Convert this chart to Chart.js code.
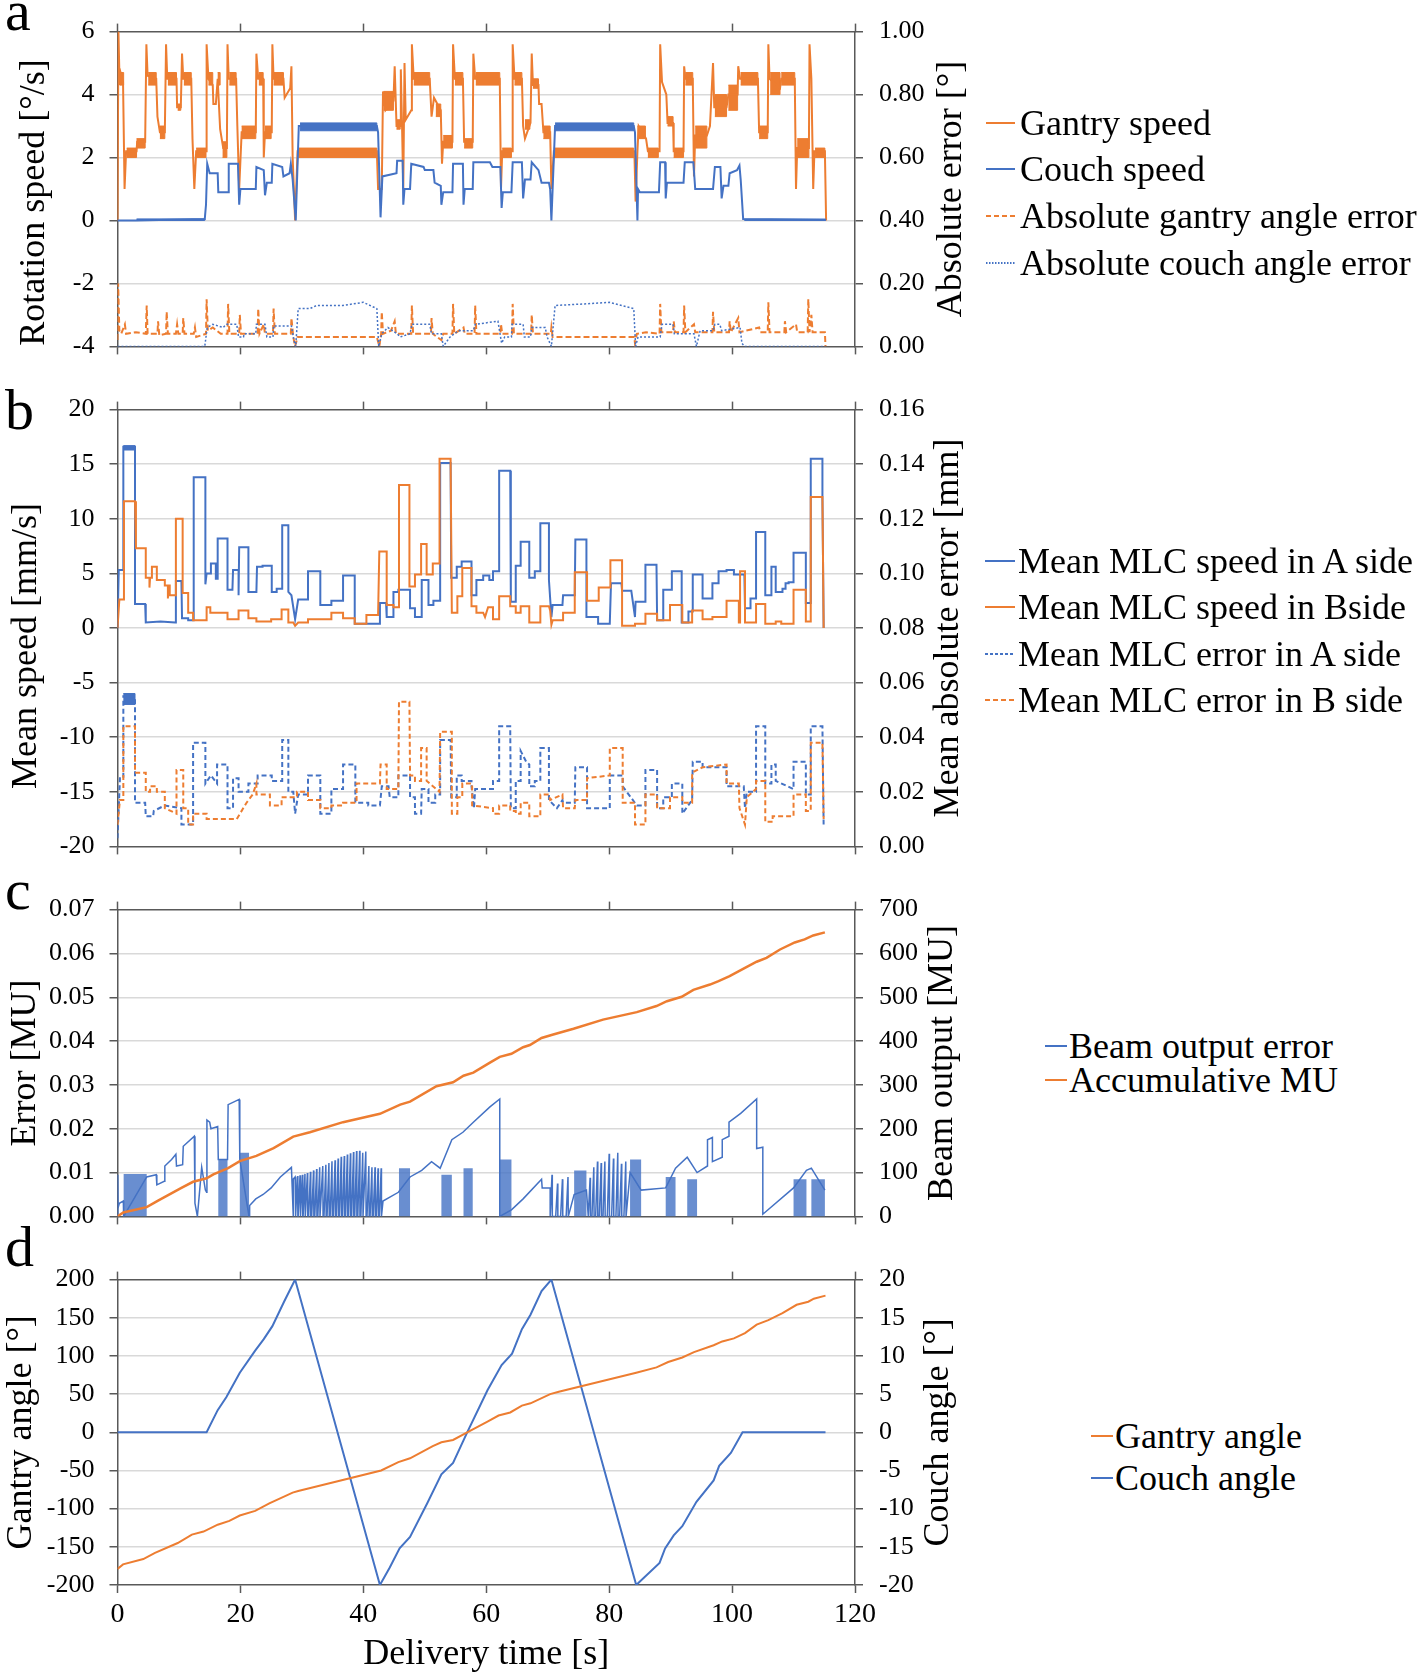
<!DOCTYPE html>
<html>
<head>
<meta charset="utf-8">
<script src="https://cdn.jsdelivr.net/npm/chart.js@4.4.0/dist/chart.umd.min.js"></script>
<style>
  body { margin: 0; background: #fff; width: 1418px; height: 1676px; position: relative; overflow: hidden;
         font-family: "Liberation Serif", "Times New Roman", serif; color: #000; }
  canvas { position: absolute; left: 0; }
  .letter { position: absolute; left: 5px; font-size: 58px; line-height: 1; z-index: 2; }
  .li { position: absolute; height: 40px; z-index: 2; }
  .li svg { position: absolute; left: 0; top: 18px; }
  .li span { position: absolute; top: 0; line-height: 40px; font-size: 36px; white-space: nowrap; }
</style>
</head>
<body>
<canvas id="chart-a" width="1000" height="378" style="top:0px"></canvas>
<canvas id="chart-b" width="1000" height="500" style="top:378px"></canvas>
<canvas id="chart-c" width="1000" height="370" style="top:878px"></canvas>
<canvas id="chart-d" width="1000" height="428" style="top:1248px"></canvas>

<div class="letter" style="top:-18px">a</div>
<div class="letter" style="top:381px">b</div>
<div class="letter" style="top:861px">c</div>
<div class="letter" style="top:1218px">d</div>

<div id="legends"></div>

<script>
// ---- panel a: rotation speed [t (s), deg/s] and absolute angle error [t, deg] ----
const gantrySpeed = [[0,0],[0.15,6.0],[0.35,4.3],[0.5,4.7],[0.9,4.4],[1.15,1.0],[1.4,2.2],[3.1,2.2],[3.2,2.5],[4.5,2.5],[4.7,5.6],[4.9,4.6],[6.3,4.5],[6.5,3.3],[6.9,2.8],[7.7,2.8],[7.9,5.6],[8.1,4.5],[9.6,4.5],[9.7,3.6],[10.3,3.6],[10.5,5.3],[10.7,4.5],[12.0,4.5],[12.2,2.6],[12.5,1.0],[12.8,2.2],[14.4,2.2],[14.5,5.6],[14.8,4.5],[15.5,4.3],[15.6,3.7],[16.0,3.7],[16.3,4.5],[16.7,2.9],[17.2,2.3],[17.8,2.3],[17.9,5.6],[18.1,4.5],[19.3,4.5],[19.5,3.0],[19.8,1.0],[20.2,2.8],[22.5,2.8],[22.6,5.3],[22.9,4.5],[23.7,4.5],[23.8,2.0],[24.0,2.8],[25.1,2.8],[25.2,5.6],[25.4,4.5],[27.0,4.5],[27.2,3.9],[28.1,4.2],[28.3,4.9],[28.5,2.0],[28.9,0],[29.3,2.2],[42.2,2.2],[42.4,1.0],[43.0,1.0],[43.2,4.1],[43.6,3.5],[44.9,3.8],[45.1,4.9],[45.4,3.0],[46.0,3.0],[46.1,4.8],[46.3,3.0],[46.5,1.0],[46.7,5.0],[46.9,3.2],[47.8,3.5],[47.9,5.6],[48.2,4.5],[50.8,4.5],[51.1,3.3],[51.5,3.9],[52.6,3.5],[52.8,1.8],[53.0,2.5],[54.5,2.5],[54.6,5.6],[54.9,4.5],[56.2,4.5],[56.4,2.5],[57.8,2.5],[57.9,5.3],[58.2,4.5],[62.2,4.5],[62.4,1.0],[62.6,2.2],[64.2,2.2],[64.3,5.6],[64.6,4.5],[65.8,4.5],[66.0,3.0],[66.3,2.6],[67.2,3.1],[67.4,5.3],[67.6,4.3],[68.5,4.3],[68.6,3.7],[69.0,3.7],[69.3,2.8],[70.4,2.8],[70.6,1.0],[71.0,2.2],[84.1,2.2],[84.3,0.6],[84.6,2.2],[84.8,3.0],[86.0,2.6],[86.3,2.2],[88.2,2.2],[88.3,5.6],[88.6,4.4],[89.3,4.0],[89.5,3.1],[90.4,3.1],[90.5,2.2],[92.1,2.2],[92.2,4.9],[92.4,4.5],[93.6,4.5],[93.8,1.4],[94.0,2.7],[95.9,2.7],[96.4,3.0],[96.9,5.0],[97.1,3.6],[99.1,3.6],[99.4,4.0],[100.9,4.0],[101.0,4.9],[101.3,4.5],[104.2,4.5],[104.4,2.8],[105.8,2.8],[105.9,5.6],[106.1,4.5],[107.8,4.2],[108.0,4.5],[110.2,4.5],[110.4,1.0],[110.6,2.3],[112.5,2.3],[112.6,5.6],[112.9,4.5],[113.2,1.0],[113.4,2.2],[115.1,2.2],[115.3,0]];
// dense jitter read as [t0, t1, low, high]
const gantrySpeedBands = [[0.4,1.0,4.3,4.7],[1.5,3.1,2.0,2.3],[3.1,4.5,2.3,2.6],[5.0,6.3,4.3,4.7],[6.9,7.7,2.6,3.0],[8.2,9.6,4.3,4.7],[9.8,10.3,3.5,3.7],[10.8,12.0,4.3,4.7],[12.8,14.4,2.0,2.3],[14.8,15.5,4.3,4.7],[16.3,16.7,4.3,4.7],[17.1,17.8,2.0,2.5],[18.2,19.3,4.3,4.7],[20.2,22.5,2.6,3.0],[23.0,23.7,4.3,4.7],[24.0,25.0,2.6,3.0],[25.4,27.0,4.3,4.7],[29.4,42.2,2.0,2.3],[43.3,44.9,3.5,4.1],[45.4,46.0,2.9,3.2],[48.2,50.8,4.3,4.7],[51.8,52.6,3.3,3.7],[53.0,54.5,2.3,2.7],[54.9,56.2,4.3,4.7],[56.4,57.8,2.3,2.6],[58.3,62.2,4.3,4.7],[62.6,64.1,2.0,2.3],[64.6,65.8,4.3,4.7],[66.3,67.1,2.9,3.2],[67.6,68.5,4.2,4.5],[69.3,70.4,2.6,3.0],[71.0,84.0,2.0,2.3],[84.6,85.9,2.6,3.0],[86.3,88.0,2.0,2.3],[89.5,90.4,3.0,3.3],[90.5,92.1,2.0,2.3],[92.4,93.6,4.3,4.7],[94.0,95.9,2.3,3.0],[97.2,99.1,3.3,4.0],[99.4,100.9,3.5,4.3],[101.4,104.2,4.3,4.7],[104.4,105.8,2.6,3.0],[106.2,107.8,4.0,4.7],[108.0,110.2,4.3,4.7],[110.6,112.5,2.0,2.6],[113.5,115.1,2.0,2.3]];
const couchSpeed = [[0,0],[3.0,0],[14.2,0.05],[14.4,0.5],[14.6,1.8],[15.0,1.5],[16.3,1.5],[16.4,0.9],[18.0,0.9],[18.1,1.8],[19.6,1.8],[19.8,0.5],[20.0,1.0],[22.5,1.0],[22.6,1.7],[23.8,1.6],[24.0,0.8],[24.3,1.2],[25.1,1.2],[25.2,1.8],[26.8,1.7],[27.0,1.4],[28.0,1.5],[28.2,1.8],[28.5,1.3],[29.0,0],[29.5,3.0],[42.2,3.0],[42.4,2.8],[42.8,0.1],[43.1,1.4],[45.4,1.5],[45.5,1.9],[46.4,1.9],[46.5,0.5],[46.7,1.0],[47.6,1.0],[47.8,1.8],[49.8,1.7],[50.0,1.6],[51.4,1.6],[51.6,1.2],[52.6,1.1],[52.7,0.5],[53.0,0.9],[54.5,0.9],[54.6,1.8],[56.2,1.8],[56.3,0.5],[56.5,1.0],[57.8,1.0],[57.9,1.85],[60.6,1.85],[61.0,1.7],[62.3,1.7],[62.5,0.4],[62.7,0.9],[64.1,0.9],[64.3,1.85],[65.8,1.85],[66.0,0.7],[66.3,1.3],[67.2,1.3],[67.4,1.85],[68.5,1.6],[69.0,1.2],[70.2,1.2],[70.4,1.0],[70.6,0],[71.2,3.0],[84.0,3.0],[84.2,2.8],[84.6,0],[84.7,1.0],[85.0,0.9],[88.1,0.9],[88.3,1.85],[89.1,1.85],[89.2,0.7],[89.4,1.2],[92.1,1.2],[92.3,1.85],[93.7,1.85],[94.0,1.0],[96.9,1.0],[97.2,1.7],[98.1,1.7],[98.3,0.7],[98.6,1.1],[99.4,1.1],[99.6,1.5],[100.8,1.6],[101.2,1.75],[101.4,1.3],[101.8,0.05],[115.3,0.02]];
const couchSpeedBands = [[3.1,14.2,0,0.05],[29.7,42.2,2.85,3.1],[71.2,84.0,2.85,3.1],[102.0,115.2,0,0.04]];
const gantryAngleError = [[0,0.02],[0.1,0.2],[0.3,0.05],[0.6,0.04],[1.2,0.07],[1.4,0.04],[3.0,0.045],[4.6,0.04],[4.75,0.13],[4.9,0.04],[6.5,0.04],[6.6,0.08],[6.8,0.035],[7.9,0.04],[8.0,0.11],[8.2,0.04],[9.5,0.04],[9.7,0.07],[9.9,0.04],[10.6,0.04],[10.7,0.09],[10.9,0.04],[12.4,0.04],[12.6,0.06],[12.8,0.03],[14.4,0.04],[14.5,0.15],[14.7,0.05],[15.5,0.06],[16.8,0.04],[17.9,0.04],[18.0,0.135],[18.2,0.04],[19.8,0.04],[19.9,0.1],[20.1,0.04],[22.8,0.04],[22.9,0.12],[23.1,0.04],[23.8,0.07],[24.0,0.04],[25.3,0.04],[25.4,0.12],[25.6,0.04],[28.2,0.04],[28.3,0.09],[28.6,0.03],[28.9,0],[29.3,0.03],[35,0.03],[42.2,0.03],[42.6,0.0],[42.9,0.04],[43.0,0.11],[43.2,0.04],[44.5,0.05],[45.1,0.08],[45.3,0.04],[47.8,0.04],[47.9,0.13],[48.1,0.04],[51.0,0.04],[51.1,0.09],[51.3,0.04],[52.7,0.02],[53.0,0.04],[54.5,0.04],[54.6,0.135],[54.8,0.04],[56.3,0.06],[56.5,0.04],[58.1,0.04],[58.2,0.13],[58.4,0.04],[62.3,0.04],[62.4,0.07],[62.6,0.04],[64.2,0.04],[64.3,0.135],[64.5,0.04],[67.3,0.04],[67.4,0.1],[67.6,0.04],[70.5,0.04],[70.6,0.06],[70.8,0.03],[84.1,0.03],[84.2,0.01],[84.5,0.04],[86.0,0.045],[88.2,0.04],[88.3,0.135],[88.5,0.045],[90.4,0.045],[90.5,0.08],[90.7,0.045],[92.1,0.045],[92.2,0.13],[92.4,0.045],[93.8,0.07],[94.0,0.045],[96.8,0.045],[96.9,0.11],[97.1,0.045],[99.5,0.045],[99.6,0.08],[99.8,0.045],[101.0,0.09],[101.2,0.045],[104.4,0.06],[104.6,0.045],[105.8,0.045],[105.9,0.14],[106.1,0.045],[108.5,0.045],[108.6,0.08],[108.8,0.045],[110.4,0.07],[110.6,0.045],[112.3,0.045],[112.4,0.15],[112.6,0.045],[112.9,0.1],[113.1,0.045],[115.1,0.045],[115.2,0]];
const couchAngleError = [[0,0],[14.2,0],[14.6,0.06],[15.5,0.07],[17.2,0.06],[17.7,0.07],[19.4,0.07],[19.7,0.03],[20.5,0.03],[20.6,0.04],[22.5,0.04],[22.6,0.07],[24.0,0.07],[24.3,0.03],[25.3,0.03],[25.4,0.065],[28.3,0.065],[28.7,0.02],[29.0,0.0],[29.4,0.12],[31.3,0.12],[32.4,0.13],[36.7,0.13],[40.0,0.14],[42.2,0.12],[42.5,0.0],[43.0,0.04],[44.0,0.06],[45.5,0.04],[46.0,0.03],[47.6,0.04],[47.9,0.07],[50.8,0.07],[51.1,0.04],[52.7,0.04],[53.0,0.0],[54.1,0.03],[55.5,0.05],[57.9,0.05],[58.2,0.07],[61.9,0.08],[62.5,0.01],[63.0,0.03],[64.1,0.03],[64.2,0.07],[66.0,0.07],[66.2,0.03],[67.2,0.03],[67.4,0.06],[69.6,0.06],[69.9,0.03],[70.6,0.0],[71.2,0.13],[76,0.135],[80,0.14],[84.0,0.12],[84.3,0.0],[84.7,0.03],[88.3,0.03],[88.6,0.07],[90.4,0.07],[90.6,0.04],[93.8,0.04],[94.2,0.0],[94.8,0.05],[96.9,0.05],[97.2,0.07],[98.0,0.07],[98.3,0.05],[101.3,0.06],[101.6,0.01],[102.0,0.0],[115.2,0.0]];

// ---- panel b: mean MLC speed [t, mm/s] and mean absolute error [t, mm] ----
const mlcSpeedA = [[0,0],[0.2,5.3],[0.95,5.3],[0.95,16.6],[2.85,16.6],[2.85,2.2],[4.5,2.2],[4.6,0.5],[7.0,0.6],[9.4,0.5],[9.5,4.3],[10.4,4.3],[10.5,0.9],[11.5,0.9],[11.5,0.7],[12.3,0.7],[12.4,13.8],[14.3,13.8],[14.3,4.0],[14.5,5.0],[15.2,5.0],[15.2,5.9],[16.0,5.9],[16.0,4.5],[16.3,4.5],[16.3,8.2],[17.9,8.2],[17.9,3.5],[18.7,3.5],[18.8,5.3],[19.7,5.3],[19.7,3.0],[19.8,7.4],[21.3,7.4],[21.3,3.3],[22.6,3.3],[22.7,5.6],[23.6,5.6],[23.6,5.7],[25.1,5.7],[25.1,3.3],[25.9,3.3],[25.9,3.6],[26.8,3.6],[26.8,9.4],[27.8,9.4],[27.8,3.3],[28.3,3.0],[28.9,0.8],[29.4,2.6],[31.0,2.6],[31.0,5.2],[33.0,5.2],[33.0,2.1],[34.8,2.1],[34.8,2.5],[36.7,2.5],[36.7,4.8],[38.6,4.8],[38.6,0.4],[42.6,0.4],[42.7,2.3],[43.7,2.3],[43.8,1.0],[44.9,1.0],[44.9,3.3],[45.7,3.3],[45.7,3.5],[47.6,3.5],[47.6,1.8],[48.4,1.8],[48.4,1.0],[49.4,1.0],[49.5,4.4],[50.6,4.4],[50.6,2.1],[51.4,2.1],[51.4,2.5],[52.5,2.5],[52.5,15.1],[54.2,15.1],[54.3,4.6],[55.2,4.6],[55.2,5.6],[56.0,5.6],[56.0,6.1],[57.6,6.1],[57.6,3.0],[58.4,3.0],[58.4,4.4],[59.5,4.4],[59.5,4.8],[60.5,4.8],[60.5,4.4],[61.1,4.4],[61.1,5.2],[62.1,5.2],[62.1,14.4],[63.9,14.4],[64.0,2.4],[64.8,2.4],[64.8,5.7],[65.6,5.7],[65.6,7.9],[67.0,7.9],[67.0,4.6],[67.9,4.6],[67.9,5.2],[68.8,5.2],[68.8,9.6],[70.2,9.6],[70.2,4.4],[70.6,1.0],[70.8,2.1],[72.4,2.1],[72.5,3.0],[74.4,3.0],[74.5,8.1],[76.3,8.1],[76.3,1.0],[78.2,1.0],[78.2,0.4],[80.1,0.4],[80.3,4.1],[82.0,4.1],[82.1,3.4],[83.6,3.4],[84.2,1.0],[84.3,2.4],[85.9,2.4],[85.9,5.8],[87.7,5.8],[87.8,0.7],[88.8,0.7],[88.8,3.5],[90.2,3.5],[90.2,5.2],[91.8,5.2],[91.8,0.5],[92.9,0.5],[92.9,1.5],[93.6,1.5],[93.6,4.9],[95.2,4.9],[95.2,2.7],[96.8,2.7],[96.8,4.1],[97.8,4.1],[97.8,5.2],[99.1,5.2],[99.1,5.3],[100.3,5.3],[100.3,4.9],[102.0,4.9],[102.1,1.8],[103.0,1.8],[103.0,2.7],[103.9,2.7],[103.9,8.8],[105.4,8.8],[105.4,3.0],[106.4,3.0],[106.4,5.6],[107.1,5.6],[107.1,3.3],[108.2,3.3],[108.2,3.6],[108.7,3.6],[108.7,4.1],[109.2,4.1],[109.2,4.2],[110.0,4.2],[110.0,6.9],[112.0,6.9],[112.0,2.3],[112.8,2.3],[112.8,15.5],[114.7,15.5],[114.7,12.0],[114.9,0]];
const mlcSpeedABands = [[0.95,2.85,16.3,16.7]];
const mlcSpeedB = [[0,0],[0.3,2.6],[1.0,2.6],[1.05,11.6],[2.85,11.6],[3.0,7.3],[4.6,7.3],[4.6,4.6],[5.2,4.6],[5.2,3.7],[5.3,4.6],[5.6,4.6],[5.6,5.6],[6.4,5.6],[6.4,4.4],[7.7,4.4],[7.7,3.9],[8.2,3.9],[8.2,2.7],[8.3,3.9],[8.5,3.9],[8.5,3.0],[9.5,3.0],[9.5,10.0],[10.6,10.0],[10.6,3.2],[11.5,3.2],[11.5,1.4],[12.3,1.4],[12.3,0.7],[14.5,0.7],[14.5,1.9],[15.1,1.9],[15.1,1.4],[17.9,1.4],[17.9,0.8],[19.7,0.8],[19.7,1.6],[21.3,1.6],[21.3,0.9],[22.6,0.9],[22.6,0.6],[25.0,0.6],[25.0,0.8],[26.7,0.8],[26.7,1.7],[27.8,1.7],[27.8,0.5],[28.6,0.5],[28.9,0.2],[29.4,0.5],[31.0,0.5],[31.0,0.8],[34.8,0.8],[34.8,1.4],[36.7,1.4],[36.7,0.9],[38.6,0.9],[38.6,0.4],[40.5,0.4],[40.5,1.2],[42.4,1.2],[42.6,7.0],[43.8,7.0],[43.8,2.1],[44.9,2.1],[44.9,1.9],[45.8,1.9],[45.8,13.1],[47.5,13.1],[47.5,3.8],[48.4,3.8],[48.4,4.9],[49.4,4.9],[49.4,7.7],[50.3,7.7],[50.3,4.9],[51.3,4.9],[51.3,5.9],[52.4,5.9],[52.4,15.5],[54.2,15.5],[54.4,1.4],[55.3,1.4],[55.3,2.9],[56.1,2.9],[56.1,5.5],[57.6,5.5],[57.6,2.0],[58.4,2.0],[58.4,1.4],[59.5,1.4],[59.8,1.0],[60.3,1.9],[61.1,1.9],[61.1,0.8],[62.1,0.8],[62.1,2.9],[63.9,2.9],[63.9,2.0],[64.8,2.0],[64.8,1.4],[65.6,1.4],[65.6,2.0],[67.0,2.0],[67.0,0.5],[68.8,0.5],[68.8,2.0],[70.2,2.0],[70.4,1.6],[70.6,0.3],[70.8,0.7],[72.5,0.7],[72.5,1.4],[74.4,1.4],[74.4,5.1],[76.4,5.1],[76.4,2.5],[78.3,2.5],[78.3,3.7],[80.2,3.7],[80.2,6.2],[82.1,6.2],[82.1,0.2],[84.2,0.2],[84.2,0.4],[85.9,0.4],[85.9,1.3],[87.8,1.3],[87.8,0.7],[89.9,0.7],[89.9,2.1],[91.9,2.1],[91.9,0.5],[93.5,0.5],[93.5,1.6],[95.2,1.6],[95.2,0.8],[96.8,0.8],[96.8,1.0],[99.1,1.0],[99.1,2.5],[101.1,2.5],[101.1,0.5],[101.3,0.5],[101.3,5.2],[102.1,5.2],[102.1,0.5],[103.9,0.5],[103.9,2.2],[105.4,2.2],[105.4,0.4],[107.1,0.4],[107.1,0.6],[108.0,0.6],[108.0,0.4],[110.0,0.4],[110.0,3.5],[112.0,3.5],[112.0,0.6],[112.8,0.6],[112.8,12.0],[114.7,12.0],[114.9,0]];
const mlcErrorA = [[0,0.003],[0.4,0.025],[0.95,0.025],[0.95,0.055],[2.85,0.055],[2.85,0.016],[4.5,0.016],[4.6,0.011],[5.8,0.011],[5.9,0.013],[7.7,0.015],[10.4,0.014],[10.4,0.008],[12.3,0.008],[12.3,0.038],[14.3,0.038],[14.3,0.023],[15.2,0.026],[16.2,0.023],[16.2,0.030],[17.9,0.030],[17.9,0.014],[18.8,0.014],[18.8,0.025],[19.7,0.025],[19.7,0.020],[21.3,0.020],[21.3,0.023],[22.8,0.023],[22.8,0.026],[25.1,0.026],[25.1,0.024],[26.8,0.024],[26.8,0.039],[27.8,0.039],[27.8,0.020],[28.6,0.020],[28.9,0.012],[29.4,0.019],[31.0,0.019],[31.0,0.026],[33.0,0.026],[33.0,0.012],[34.8,0.012],[34.8,0.021],[36.7,0.021],[36.7,0.030],[38.7,0.030],[38.7,0.016],[40.8,0.016],[40.8,0.015],[42.7,0.015],[43.0,0.022],[44.1,0.022],[44.3,0.018],[45.7,0.018],[45.7,0.026],[47.6,0.026],[47.6,0.018],[48.4,0.018],[48.4,0.012],[49.4,0.012],[49.5,0.021],[50.6,0.021],[50.6,0.016],[51.7,0.016],[51.7,0.019],[52.5,0.019],[52.5,0.039],[54.2,0.039],[54.3,0.018],[55.2,0.018],[55.2,0.026],[56.0,0.026],[56.0,0.024],[57.6,0.024],[57.6,0.022],[58.0,0.014],[58.2,0.021],[61.1,0.021],[61.1,0.024],[62.1,0.024],[62.1,0.044],[63.9,0.044],[64.0,0.014],[64.8,0.014],[64.8,0.024],[65.6,0.024],[65.6,0.035],[66.5,0.031],[67.0,0.030],[67.0,0.022],[67.9,0.022],[67.9,0.024],[68.8,0.024],[68.8,0.036],[70.2,0.036],[70.2,0.017],[71.5,0.014],[72.4,0.017],[72.5,0.016],[74.4,0.016],[74.5,0.029],[76.4,0.029],[76.4,0.014],[80.1,0.014],[80.1,0.026],[82.2,0.026],[82.2,0.022],[84.5,0.015],[85.9,0.015],[85.9,0.028],[87.8,0.028],[87.8,0.014],[88.8,0.014],[88.8,0.018],[90.2,0.018],[90.2,0.023],[91.9,0.023],[91.9,0.012],[93.5,0.017],[93.6,0.031],[95.2,0.031],[95.2,0.029],[99.1,0.029],[99.1,0.022],[101.9,0.022],[102.1,0.014],[102.4,0.020],[103.9,0.020],[103.9,0.044],[105.4,0.044],[105.4,0.023],[106.4,0.023],[106.4,0.030],[107.1,0.030],[107.1,0.024],[110.0,0.021],[110.0,0.031],[112.0,0.031],[112.0,0.019],[112.8,0.019],[112.8,0.044],[114.7,0.044],[114.9,0.007]];
const mlcErrorABands = [[0.95,2.85,0.052,0.056]];
const mlcErrorB = [[0,0.008],[0.4,0.017],[0.95,0.017],[0.95,0.044],[2.85,0.044],[2.85,0.027],[4.6,0.027],[4.6,0.020],[5.3,0.020],[5.3,0.022],[6.4,0.022],[6.4,0.020],[7.7,0.020],[7.7,0.014],[9.6,0.012],[9.6,0.028],[10.7,0.028],[10.7,0.014],[11.5,0.014],[11.5,0.008],[12.3,0.008],[12.3,0.012],[14.5,0.012],[14.5,0.010],[19.4,0.010],[21.0,0.016],[22.0,0.019],[22.6,0.023],[22.6,0.019],[24.8,0.019],[24.8,0.015],[26.7,0.015],[26.7,0.018],[29.2,0.018],[29.2,0.020],[31.0,0.020],[31.0,0.017],[33.0,0.017],[33.0,0.014],[34.8,0.014],[34.8,0.015],[36.7,0.015],[36.7,0.016],[38.9,0.016],[38.9,0.023],[42.7,0.023],[42.8,0.030],[43.8,0.030],[43.8,0.021],[45.7,0.021],[45.8,0.053],[47.5,0.053],[47.6,0.026],[48.4,0.026],[48.4,0.024],[49.4,0.024],[49.4,0.036],[50.3,0.036],[50.3,0.024],[52.4,0.020],[52.5,0.042],[54.4,0.042],[54.4,0.012],[55.3,0.012],[55.3,0.018],[56.1,0.018],[56.1,0.023],[57.7,0.023],[57.7,0.015],[61.1,0.014],[61.1,0.012],[62.1,0.012],[62.1,0.015],[63.9,0.015],[63.9,0.013],[64.8,0.013],[64.8,0.012],[65.6,0.012],[65.6,0.016],[67.0,0.016],[67.0,0.011],[68.8,0.011],[68.8,0.019],[70.2,0.019],[70.4,0.017],[72.4,0.019],[72.5,0.014],[74.4,0.014],[74.5,0.017],[76.4,0.017],[76.4,0.025],[80.1,0.026],[80.1,0.036],[82.2,0.036],[82.2,0.016],[84.2,0.016],[84.2,0.008],[85.9,0.008],[85.9,0.019],[87.8,0.019],[87.8,0.014],[89.9,0.014],[89.9,0.018],[91.9,0.018],[91.9,0.016],[93.5,0.016],[93.5,0.027],[95.2,0.029],[99.1,0.030],[99.1,0.023],[101.1,0.023],[101.2,0.014],[102.1,0.008],[102.4,0.018],[103.9,0.021],[103.9,0.024],[105.4,0.024],[105.4,0.009],[106.6,0.009],[106.6,0.011],[110.0,0.011],[110.0,0.019],[112.0,0.019],[112.0,0.013],[112.8,0.013],[112.8,0.038],[114.7,0.038],[114.9,0.010]];

// ---- panel c: beam output error [t, MU] and accumulated MU [t, MU] ----
const beamError = [[0,0],[0.05,0.0095],[0.1,0.002],[0.3,0.003],[0.95,0.0035],[1.0,0],[4.75,0.009],[6.3,0.0095],[6.4,0.0072],[7.6,0.008],[7.7,0.0115],[8.8,0.013],[9.5,0.0142],[9.6,0.0115],[10.6,0.0118],[10.7,0.016],[12.5,0.0183],[12.6,0.003],[13.0,0],[13.7,0.0112],[14.3,0.006],[14.5,0.0055],[14.55,0.022],[15.0,0.0215],[15.2,0.020],[16.3,0.0205],[16.4,0.013],[17.9,0.013],[18.0,0.0255],[19.8,0.0267],[19.9,0.013],[21.4,0],[21.5,0.0025],[22.5,0.004],[23.7,0.005],[25.0,0.0065],[26.5,0.009],[28.3,0.0112],[28.6,0.0085],[43.2,0.0035],[45.7,0.0055],[47.6,0.009],[49.5,0.0105],[51.1,0.0125],[52.5,0.011],[54.4,0.0175],[56.2,0.0192],[57.9,0.0215],[60.6,0.025],[62.2,0.0268],[62.2,0],[64.1,0.0015],[66.0,0.004],[69.0,0.0085],[69.1,0.0065],[70.4,0.0065],[74.3,0.005],[76.3,0.006],[83.4,0.01],[85.2,0.006],[89.2,0.0065],[90.8,0.011],[92.7,0.0135],[94.3,0.010],[96.0,0.0115],[96.0,0.0175],[96.8,0.018],[96.8,0.0125],[98.4,0.0135],[98.4,0.0175],[99.5,0.0183],[99.5,0.0215],[101.4,0.0235],[104.0,0.0268],[104.0,0.0155],[105.0,0.0158],[105.0,0.0005],[110.0,0.0065],[112.1,0.0105],[112.9,0.011],[115.1,0.006]];
// sawtooth peaks [t, peak MU]
const beamErrorTeeth = [[28.9,0.009],[29.3,0.0092],[29.7,0.0094],[30.1,0.0095],[30.5,0.0097],[30.9,0.0099],[31.4,0.0102],[31.9,0.0105],[32.4,0.0108],[32.9,0.0112],[33.4,0.0115],[33.9,0.0118],[34.4,0.0122],[34.9,0.0126],[35.4,0.0128],[35.9,0.0132],[36.4,0.0136],[36.9,0.0138],[37.4,0.0141],[37.9,0.0144],[38.4,0.0147],[38.9,0.0149],[39.4,0.015],[39.9,0.0145],[40.4,0.0148],[40.9,0.0115],[41.4,0.0112],[41.9,0.0112],[42.4,0.011],[42.9,0.011],[70.7,0.0095],[71.6,0.0075],[72.4,0.0085],[73.3,0.009],[76.9,0.0088],[77.5,0.0112],[78.1,0.0125],[78.7,0.0122],[79.3,0.0125],[80.0,0.0143],[80.7,0.0132],[81.4,0.0145],[82.0,0.012],[82.7,0.0125]];
const beamErrorBands = [[1.0,4.75,0,0.0097],[16.4,17.9,0,0.013],[19.9,21.4,0,0.0145],[45.8,47.6,0,0.011],[52.7,54.4,0,0.0095],[56.3,57.8,0,0.011],[62.2,64.1,0,0.013],[74.3,76.3,0,0.0105],[83.4,85.2,0,0.013],[89.2,90.8,0,0.009],[92.7,94.3,0,0.0085],[110.0,112.1,0,0.0085],[112.9,115.1,0,0.0085]];
const accumulativeMU = [[0,0],[0.95,9],[4.75,21],[6.6,36],[10.4,65],[12.3,79],[14.5,87],[15.6,96],[18.0,110],[19.9,126],[22.6,138],[25.4,156],[28.6,182],[31.3,192],[36.7,215],[42.7,234],[46.0,255],[47.6,262],[51.9,297],[54.6,306],[56.3,321],[57.9,328],[60.6,351],[62.2,364],[64.1,371],[66.0,386],[67.1,391],[69.0,407],[70.9,415],[74.2,428],[79.0,449],[84.5,466],[87.7,480],[89.4,491],[91.8,501],[93.7,517],[96.4,529],[97.8,537],[99.6,548],[102.1,567],[104.0,581],[105.6,590],[107.8,609],[110.2,625],[111.8,632],[113.2,641],[115.1,648]];

// ---- panel d: gantry angle [t, deg] and couch angle [t, deg] ----
const gantryAngle = [[0,-179],[0.9,-173],[4.2,-166],[6.1,-158],[9.8,-145],[12.1,-134],[14.0,-130],[16.3,-121],[18.2,-116],[19.9,-109],[22.4,-103],[24.7,-93],[28.5,-79],[29.4,-77],[42.9,-50],[45.7,-39],[47.6,-34],[51.3,-18],[52.7,-13],[54.6,-10],[56.9,0],[60.2,14],[62.0,22],[63.9,26],[65.8,35],[67.2,38],[70.4,50],[71.8,53],[84.4,78],[87.7,85],[89.6,92],[91.9,98],[93.8,105],[97.0,114],[98.4,119],[100.3,123],[102.1,130],[104.0,141],[105.9,147],[108.2,156],[110.5,167],[112.4,171],[113.3,175],[115.2,179]];
const couchAngle = [[0,0],[14.5,0],[16.3,2.9],[17.7,4.6],[19.9,7.8],[22.4,10.7],[23.8,12.2],[25.2,13.9],[27.1,17.1],[28.9,20],[42.7,-20],[44.3,-17.7],[45.9,-15.2],[47.6,-13.7],[50.4,-9.3],[52.7,-5.5],[54.6,-4.0],[56.9,0],[60.2,5.5],[62.5,8.8],[64.2,10.3],[65.8,13.5],[67.2,15.4],[69.0,18.5],[70.6,20],[84.4,-20],[88.2,-17.1],[89.1,-15.2],[90.5,-13.5],[91.9,-12.3],[94.2,-9.1],[97.0,-6.3],[97.9,-4.4],[99.8,-2.7],[101.7,0],[115.2,0]];

// ---- axis ranges ----
const timeAxis = { min: 0, max: 120, step: 20 };

const FONT = '"Liberation Serif", "Times New Roman", serif';
const ORANGE = '#ED7D31';
const BLUE = '#4472C4';
const BLUE_DENSE = 'rgba(68, 114, 196, 0.8)';
const AXIS = '#595959';
const GRID = '#d9d9d9';
const PLOT_LEFT = 117.5;
const RIGHT_W = 145;

function pts(arr) {
    return arr.map(([x, y]) => ({ x, y }));
}

// each band becomes a closed rectangle, split by gaps
function bandPts(bands) {
    const out = [];
    bands.forEach(([t0, t1, lo, hi], i) => {
        if (i) out.push({ x: t0, y: null });
        out.push({ x: t0, y: lo }, { x: t1, y: lo }, { x: t1, y: hi }, { x: t0, y: hi });
    });
    return out;
}

function teethPts(teeth) {
    const out = [];
    teeth.forEach(([t, peak]) => {
        out.push({ x: t - 0.3, y: 0 }, { x: t, y: peak }, { x: t + 0.05, y: 0 });
    });
    return out;
}

function line(data, color, yAxisID, order, extra) {
    return Object.assign({ data, borderColor: color, backgroundColor: color, borderWidth: 2,
        pointRadius: 0, tension: 0, yAxisID, xAxisID: 'x', order, fill: false }, extra || {});
}

function band(bands, color, yAxisID, order, fillStyle, edge) {
    return { data: bandPts(bands), borderColor: color, backgroundColor: fillStyle || color,
        borderWidth: edge === undefined ? 1 : edge, pointRadius: 0, tension: 0, yAxisID, xAxisID: 'x',
        order, fill: 'shape', spanGaps: false };
}

function xScales(showLabels, topH, bottomH, title) {
    return {
        x: {
            type: 'linear', position: 'bottom', min: timeAxis.min, max: timeAxis.max,
            ticks: { stepSize: timeAxis.step, display: showLabels, padding: 5, color: '#000',
                     font: { family: FONT, size: 28 } },
            grid: { drawOnChartArea: false, tickLength: 8, tickColor: AXIS, tickWidth: 1.5 },
            border: { color: AXIS, width: 1.5 },
            title: title ? { display: true, text: title, color: '#000',
                     font: { family: FONT, size: 36, lineHeight: 1 }, padding: { top: 0, bottom: 3 } } : { display: false },
            afterFit: s => { s.height = bottomH; }
        },
        xTop: {
            type: 'linear', position: 'top', min: timeAxis.min, max: timeAxis.max,
            ticks: { stepSize: timeAxis.step, display: false },
            grid: { drawOnChartArea: false, tickLength: 8, tickColor: AXIS, tickWidth: 1.5 },
            border: { color: AXIS, width: 1.5 },
            afterFit: s => { s.height = topH; }
        }
    };
}

function yScale(side, min, max, step, title, titlePad, fmt) {
    const left = side === 'left';
    return {
        type: 'linear', position: side, min, max,
        ticks: { stepSize: step, padding: left ? 15 : 16, color: '#000',
                 font: { family: FONT, size: 26 }, callback: fmt },
        grid: {
            drawOnChartArea: left,
            color: c => (c.tick && (c.tick.value === min || c.tick.value === max)) ? 'rgba(0,0,0,0)' : GRID,
            lineWidth: 1.5, tickLength: 8, tickColor: AXIS, tickWidth: 1.5
        },
        border: { color: AXIS, width: 1.5 },
        // right-hand titles read bottom-to-top in the original, drawn by the plugin below
        title: left ? { display: true, text: title, color: '#000', font: { family: FONT, size: 36, lineHeight: 1 },
                 padding: { top: titlePad, bottom: 0 } } : { display: false },
        afterFit: s => { s.width = left ? PLOT_LEFT : RIGHT_W; }
    };
}

const rightTitlePlugin = {
    id: 'rightTitle',
    afterDraw(chart, args, opts) {
        if (!opts.text) return;
        const { ctx, chartArea } = chart;
        ctx.save();
        ctx.translate(opts.x, (chartArea.top + chartArea.bottom) / 2);
        ctx.rotate(-Math.PI / 2);
        ctx.font = '36px ' + FONT;
        ctx.fillStyle = '#000';
        ctx.textAlign = 'center';
        ctx.textBaseline = 'middle';
        ctx.fillText(opts.text, 0, 0);
        ctx.restore();
    }
};

function makeChart(id, datasets, scales, rightTitle) {
    const ctx = document.getElementById(id).getContext('2d');
    return new Chart(ctx, {
        type: 'line',
        data: { datasets },
        options: {
            responsive: false,
            animation: false,
            layout: { padding: 0 },
            plugins: { legend: { display: false }, tooltip: { enabled: false }, rightTitle },
            scales
        },
        plugins: [rightTitlePlugin]
    });
}

const int = v => String(v);
const fix2 = v => v.toFixed(2);
const NB = '\u00A0';

// panel a
makeChart('chart-a', [
    line(pts(couchSpeed), BLUE, 'y', 0),
    band(couchSpeedBands, BLUE, 'y', 1),
    line(pts(couchAngleError), BLUE, 'y2', 2, { borderWidth: 1.5, borderDash: [2, 2] }),
    line(pts(gantryAngleError), ORANGE, 'y2', 3, { borderWidth: 2, borderDash: [6, 3] }),
    line(pts(gantrySpeed), ORANGE, 'y', 4),
    band(gantrySpeedBands, ORANGE, 'y', 5)
], Object.assign(xScales(false, 26, 19), {
    y: yScale('left', -4, 6, 2, 'Rotation speed [°/s]' + NB.repeat(3), 17, int),
    y2: yScale('right', 0, 1, 0.2, '', 0, fix2)
}), { text: 'Absolute error [°]', x: 951.5 });

// panel b
makeChart('chart-b', [
    line(pts(mlcSpeedB), ORANGE, 'y', 0),
    line(pts(mlcSpeedA), BLUE, 'y', 1),
    band(mlcSpeedABands, BLUE, 'y', 2),
    line(pts(mlcErrorB), ORANGE, 'y2', 3, { borderDash: [5, 3] }),
    line(pts(mlcErrorA), BLUE, 'y2', 4, { borderDash: [5, 3] }),
    band(mlcErrorABands, BLUE, 'y2', 5)
], Object.assign(xScales(false, 20, 16), {
    y: yScale('left', -20, 20, 5, 'Mean speed [mm/s]' + NB.repeat(4), 9, int),
    y2: yScale('right', 0, 0.16, 0.02, '', 0, fix2)
}), { text: 'Mean absolute error [mm]', x: 949 });

// panel c
const beamLine = pts(beamError).concat(teethPts(beamErrorTeeth)).sort((a, b) => a.x - b.x);
makeChart('chart-c', [
    line(pts(accumulativeMU), ORANGE, 'y2', 0, { borderWidth: 2.5 }),
    line(beamLine, BLUE, 'y', 1, { borderWidth: 1.5 }),
    band(beamErrorBands, BLUE, 'y', 2, BLUE_DENSE, 0)
], Object.assign(xScales(false, 16, 20), {
    y: yScale('left', 0, 0.07, 0.01, 'Error [MU]', 7.5, fix2),
    y2: yScale('right', 0, 700, 100, '', 0, int)
}), { text: 'Beam output [MU]', x: 943 });

// panel d
makeChart('chart-d', [
    line(pts(gantryAngle), ORANGE, 'y', 0),
    line(pts(couchAngle), BLUE, 'y2', 1)
], Object.assign(xScales(true, 20, 91, 'Delivery time [s]'), {
    y: yScale('left', -200, 200, 50, 'Gantry angle [°]', 3.5, int),
    y2: yScale('right', -20, 20, 5, '', 0, int)
}), { text: 'Couch angle [°]', x: 939 });

// legends (page text beside each panel)
const legendItems = [
    { x: 986, y: 123, w: 29, gap: 5, color: ORANGE, dash: '', label: 'Gantry speed' },
    { x: 986, y: 169, w: 29, gap: 5, color: BLUE, dash: '', label: 'Couch speed' },
    { x: 986, y: 216, w: 29, gap: 5, color: ORANGE, dash: '5,3', label: 'Absolute gantry angle error' },
    { x: 986, y: 263, w: 29, gap: 5, color: BLUE, dash: '1.5,1.5', label: 'Absolute couch angle error' },
    { x: 985, y: 561, w: 30, gap: 3, color: BLUE, dash: '', label: 'Mean MLC speed in A side' },
    { x: 985, y: 607, w: 30, gap: 3, color: ORANGE, dash: '', label: 'Mean MLC speed in Bside' },
    { x: 985, y: 654, w: 30, gap: 3, color: BLUE, dash: '3,2', label: 'Mean MLC error in A side' },
    { x: 985, y: 700, w: 30, gap: 3, color: ORANGE, dash: '5,3', label: 'Mean MLC error in B side' },
    { x: 1045, y: 1046, w: 22, gap: 2, color: BLUE, dash: '', label: 'Beam output error' },
    { x: 1045, y: 1080, w: 22, gap: 2, color: ORANGE, dash: '', label: 'Accumulative MU' },
    { x: 1091, y: 1436, w: 22, gap: 2, color: ORANGE, dash: '', label: 'Gantry angle' },
    { x: 1091, y: 1478, w: 22, gap: 2, color: BLUE, dash: '', label: 'Couch angle' }
];

const legendBox = document.getElementById('legends');
legendItems.forEach(item => {
    const div = document.createElement('div');
    div.className = 'li';
    div.style.left = item.x + 'px';
    div.style.top = (item.y - 20) + 'px';
    const dash = item.dash ? ` stroke-dasharray="${item.dash}"` : '';
    div.innerHTML = `<svg width="${item.w}" height="4"><line x1="0" y1="2" x2="${item.w}" y2="2" stroke="${item.color}" stroke-width="2"${dash}/></svg>` +
        `<span style="left:${item.w + item.gap}px">${item.label}</span>`;
    legendBox.appendChild(div);
});
</script>
</body>
</html>
